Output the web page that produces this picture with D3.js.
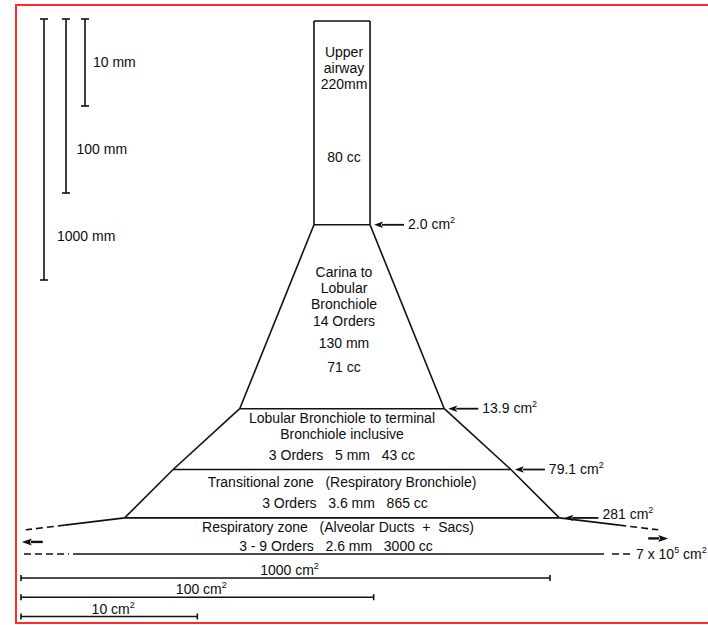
<!DOCTYPE html>
<html><head><meta charset="utf-8">
<script src="https://cdn.jsdelivr.net/npm/d3@7"></script>
<style>
body{margin:0;background:#fff}
text{font-family:"Liberation Sans",Arial,Helvetica,sans-serif;font-size:14px;fill:#0d0d0d;white-space:pre}
</style>
</head><body>
<svg id="c" width="708" height="625"></svg>
<script>
// ---- data ----
const mmBars = [10, 100, 1000];                 // vertical length scale bars (mm)
const cm2Bars = [1000, 100, 10];                // horizontal area scale bars (cm²)
const zoneLengthMM = [220, 130, 5, 3.6, 2.6];   // length of each zone
const zoneVolumeCC = [80, 71, 43, 865, 3000];   // volume of each zone
const boundaryArea = [2.0, 2.0, 13.9, 79.1, 281, 7e5]; // cross-section at each boundary (cm²)
const boundaryLabel = ["", "2.0", "13.9", "79.1", "281", "7 x 10"];
const zoneTitle = [
  ["Upper", "airway"],
  ["Carina to", "Lobular", "Bronchiole"],
  ["Lobular Bronchiole to terminal", "Bronchiole inclusive"],
  ["Transitional zone   (Respiratory Bronchiole)"],
  ["Respiratory zone   (Alveolar Ducts  +  Sacs)"]
];
const zoneOrders = ["", "14", "3", "3", "3 - 9"];

// ---- scales ----
const yLen = d3.scaleLog().domain([1, 1000]).range([0, 261]);   // mm -> px (log)
const wArea = d3.scaleLog().domain([1, 1000]).range([0, 529]);  // cm² -> px width (log)
const cx = 342, yTop = 21, ink = "#111";

const svg = d3.select("#c");
svg.append("rect").attr("width", 708).attr("height", 625).attr("fill", "#fff");
svg.append("rect").attr("x", 16).attr("y", 5).attr("width", 760).attr("height", 618)
  .attr("fill", "none").attr("stroke", "#ff2a2a").attr("stroke-width", 2);

const by = [yTop];
zoneLengthMM.forEach((L, i) => by.push(by[i] + yLen(L)));
const hw = boundaryArea.map(a => wArea(a) / 2 + 1.5);

const g = svg.append("g").attr("stroke", ink).attr("stroke-width", 1.6).attr("fill", "none");
const line = (x1, y1, x2, y2, dash) => g.append("line").attr("x1", x1).attr("y1", y1)
  .attr("x2", x2).attr("y2", y2).attr("stroke-dasharray", dash || null);

// horizontal boundaries 0..4
for (let k = 0; k <= 4; k++) line(cx - hw[k], by[k], cx + hw[k], by[k]);
// sides zones 0..3
for (let k = 0; k < 4; k++) {
  line(cx - hw[k], by[k], cx - hw[k + 1], by[k + 1]);
  line(cx + hw[k], by[k], cx + hw[k + 1], by[k + 1]);
}
// respiratory zone sides continue toward 7e5 (off the page)
const ext = {};
[-1, 1].forEach(s => {
  const x4 = cx + s * hw[4], x5 = cx + s * hw[5];
  const P = t => [x4 + t * (x5 - x4), by[4] + t * (by[5] - by[4])];
  const a = P(0.2), b = P(0.33);
  line(x4, by[4], a[0], a[1]);
  line(a[0], a[1], b[0], b[1], "7,4");
  ext[s] = b;
});
// bottom boundary (7 x 10^5)
line(24, by[5], 69, by[5], "7,4");
line(73, by[5], 604, by[5]);
line(612, by[5], 632, by[5], "7,4");

// arrows
function arrow(tail, tip, y, len, half, sw) {
  const d = Math.sign(tip - tail);
  svg.append("line").attr("x1", tail).attr("y1", y).attr("x2", tip - d * (len - 1)).attr("y2", y)
    .attr("stroke", ink).attr("stroke-width", sw || 1.8);
  svg.append("path").attr("d", `M${tip},${y}L${tip - d * len},${y - half}L${tip - d * (len - 2)},${y}L${tip - d * len},${y + half}Z`)
    .attr("fill", ink);
}
arrow(ext[-1][0] + 17, ext[-1][0] - 4, by[4] + 24, 10, 3.5, 2.4);
arrow(ext[1][0] - 10, ext[1][0] + 10, by[4] + 20.5, 10, 3.5, 2.4);

function areaText(x, y, main, sup, anchor) {
  const t = svg.append("text").attr("x", x).attr("y", y).attr("text-anchor", anchor || "start");
  t.append("tspan").text(main);
  if (sup) {
    t.append("tspan").attr("font-size", 9).attr("dy", -6).text(sup[0]);
    t.append("tspan").attr("dy", 6).text(sup.slice(1));
  }
  return t;
}
for (let k = 1; k <= 4; k++) {
  const last = k === 4;
  const tip = cx + hw[k] + (last ? 5 : 4), tail = tip + (last ? 34 : 30);
  arrow(tail, tip, by[k], 9, 3.2);
  areaText(tail + 4, by[k] + (last ? 1.5 : 4.5), boundaryLabel[k] + " cm", "2");
}
{
  const t = svg.append("text").attr("x", 636).attr("y", by[5] + 5);
  t.append("tspan").text(boundaryLabel[5]);
  t.append("tspan").attr("font-size", 9).attr("dy", -6).text("5");
  t.append("tspan").attr("dy", 6).text(" cm");
  t.append("tspan").attr("font-size", 9).attr("dy", -6).text("2");
}

// zone texts
const fmtLen = (L, i) => i === 0 ? L + "mm" : L + " mm";
const rows = [
  [[zoneTitle[0][0], 36], [zoneTitle[0][1], 52], [fmtLen(zoneLengthMM[0], 0), 68], [zoneVolumeCC[0] + " cc", 141]],
  [[zoneTitle[1][0], 52], [zoneTitle[1][1], 68], [zoneTitle[1][2], 84], [zoneOrders[1] + " Orders", 101],
   [fmtLen(zoneLengthMM[1], 1), 123], [zoneVolumeCC[1] + " cc", 147]],
  [[zoneTitle[2][0], 14], [zoneTitle[2][1], 30],
   [zoneOrders[2] + " Orders   " + fmtLen(zoneLengthMM[2], 2) + "   " + zoneVolumeCC[2] + " cc", 51]],
  [[zoneTitle[3][0], 17], [zoneOrders[3] + " Orders   " + fmtLen(zoneLengthMM[3], 3) + "   " + zoneVolumeCC[3] + " cc", 38, 3]],
  [[zoneTitle[4][0], 14, -4], [zoneOrders[4] + " Orders   " + fmtLen(zoneLengthMM[4], 4) + "   " + zoneVolumeCC[4] + " cc", 33, -6]]
];
const rowDx = [2, 2, 0, 0, 0];
rows.forEach((rs, i) => rs.forEach(r => {
  svg.append("text").attr("x", cx + rowDx[i] + (r[2] || 0)).attr("y", by[i] + r[1])
    .attr("text-anchor", "middle").text(r[0]);
}));

// mm scale bars (left)
const mmX = [85, 66, 44], barTop = 19;
mmBars.forEach((v, i) => {
  const x = mmX[i], y2 = barTop + yLen(v);
  line(x, barTop, x, y2); line(x - 4, barTop, x + 4, barTop); line(x - 4, y2, x + 4, y2);
  const prev = i === 0 ? barTop : barTop + yLen(mmBars[i - 1]);
  svg.append("text").attr("x", x + 8 + 2.5 * i).attr("y", (prev + y2) / 2 + 4).text(v + " mm");
});

// cm² scale bars (bottom)
const barY = d3.scalePoint().domain(cm2Bars).range([578, 616.5]);
const x0 = 21;
cm2Bars.forEach(v => {
  const y = barY(v), x1 = x0 + wArea(v);
  line(x0, y, x1, y); line(x0, y - 3, x0, y + 3); line(x1, y - 3, x1, y + 3);
  areaText((x0 + x1) / 2 + 4, y - 3, v + " cm", "2", "middle");
});
</script>
</body></html>
